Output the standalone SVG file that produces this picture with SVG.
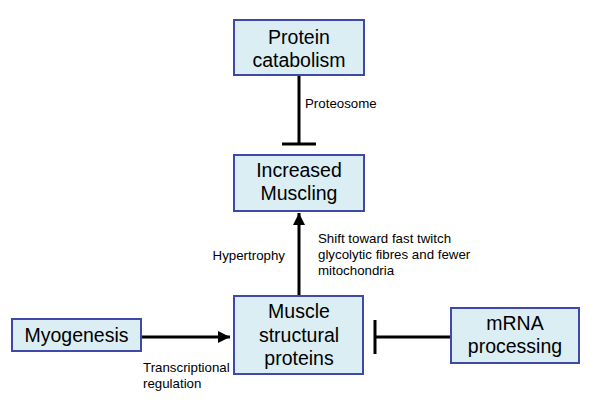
<svg xmlns="http://www.w3.org/2000/svg" width="600" height="401" viewBox="0 0 600 401">
<style>
.box{fill:#dbeef3;stroke:#4048aa;stroke-width:2}
.t{font-family:"Liberation Sans",Arial,sans-serif;font-size:19.5px;fill:#000;text-anchor:middle}
.s{font-family:"Liberation Sans",Arial,sans-serif;font-size:13.3px;fill:#000}
.ln{stroke:#000;stroke-width:3;fill:none}
</style>
<defs>
<marker id="arr" viewBox="0 0 10 10" refX="10" refY="5" markerWidth="4" markerHeight="4" orient="auto" markerUnits="strokeWidth">
<path d="M0,0 L10,5 L0,10 Z" fill="#000"/>
</marker>
</defs>
<rect width="600" height="401" fill="#fff"/>
<g id="connectors">
<line class="ln" x1="299" y1="76" x2="299" y2="144"/>
<line class="ln" x1="282" y1="144" x2="316" y2="144"/>
<line class="ln" x1="299" y1="295" x2="299" y2="213" marker-end="url(#arr)"/>
<line class="ln" x1="142" y1="337" x2="230" y2="337" marker-end="url(#arr)"/>
<line class="ln" x1="450" y1="337" x2="375" y2="337"/>
<line class="ln" x1="375" y1="320" x2="375" y2="354"/>
<text class="s" x="305" y="108">Proteosome</text>
<text class="s" x="285" y="260" text-anchor="end">Hypertrophy</text>
<text class="s" x="318" y="243">Shift toward fast twitch</text>
<text class="s" x="318" y="259">glycolytic fibres and fewer</text>
<text class="s" x="318" y="275">mitochondria</text>
<text class="s" x="143" y="372">Transcriptional</text>
<text class="s" x="143" y="388">regulation</text>
</g>
<g id="protein-catabolism">
<rect class="box" x="234" y="20" width="130" height="55"/>
<text class="t" x="299" y="44">Protein</text>
<text class="t" x="299" y="67">catabolism</text>
</g>
<g id="increased-muscling">
<rect class="box" x="234" y="155" width="130" height="56"/>
<text class="t" x="299" y="177">Increased</text>
<text class="t" x="299" y="200">Muscling</text>
</g>
<g id="muscle-structural-proteins">
<rect class="box" x="234" y="296" width="129" height="78"/>
<text class="t" x="299" y="318">Muscle</text>
<text class="t" x="299" y="342">structural</text>
<text class="t" x="299" y="365">proteins</text>
</g>
<g id="myogenesis">
<rect class="box" x="12" y="319" width="129" height="32"/>
<text class="t" x="76.5" y="342">Myogenesis</text>
</g>
<g id="mrna-processing">
<rect class="box" x="451" y="308" width="128" height="55"/>
<text class="t" x="515" y="330">mRNA</text>
<text class="t" x="515" y="353">processing</text>
</g>
</svg>
